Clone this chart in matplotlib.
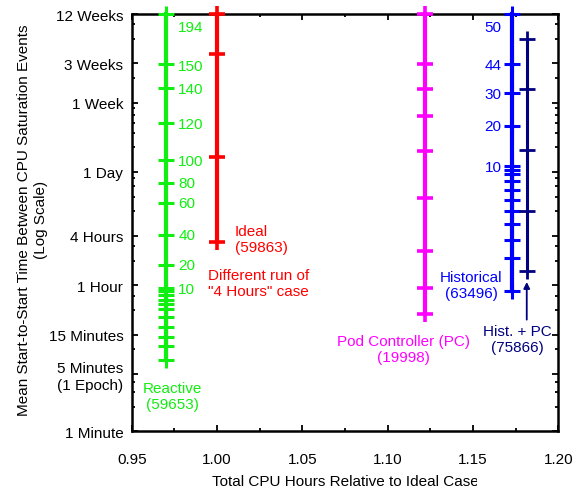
import matplotlib
matplotlib.use('Agg')
import matplotlib.pyplot as plt
from matplotlib.ticker import FixedLocator, NullFormatter
from matplotlib.transforms import Bbox, TransformedBbox

plt.rcParams['font.family'] = ['Liberation Sans', 'DejaVu Sans']
plt.rcParams['font.size'] = 11

# y values are minutes between saturation events (log axis)
reactive_x = 0.970
reactive_y = [120960, 29770, 15190, 5691, 2016, 1058, 604, 246, 106, 55.2, 50.7,
              45.7, 40.1, 35.5, 30.9, 24.5, 18.5, 14.2, 10.8, 7.4]
ideal_x = 1.000
ideal_y = [120960, 39400, 2194, 202]
pc_x = 1.122
pc_y = [120960, 29770, 14770, 6985, 2617, 694.5, 158.4, 55.2, 26.8]
hist_x = 1.173
hist_y = [120960, 29770, 13200, 5231, 1690, 1536, 1361, 1110, 869, 662, 482,
          335, 215.6, 128, 51.6]
histpc_x = 1.1815
histpc_y = [60010, 14770, 2669, 478, 90.4]

reactive_labels = ['194', '150', '140', '120', '100', '80', '60', '40', '20', '10']
reactive_label_y = [83330, 28140, 14770, 5580, 1960, 1058, 604, 246, 107, 54.1]
hist_labels = ['50', '44', '30', '20', '10']
hist_label_y = [83330, 28940, 12950, 5190, 1643]

ytick_vals = [120960, 30240, 10080, 1440, 240, 60, 15, 5, 1]
ytick_labels = ['12 Weeks', '3 Weeks', '1 Week', '1 Day', '4 Hours', '1 Hour',
                '15 Minutes', '5 Minutes\n(1 Epoch)', '1 Minute']
ytick_minor = [90720, 60480, 20160, 8640, 7200, 5760, 4320, 2880, 1200, 960, 720,
               480, 180, 120, 45, 30, 10, 4, 3, 2]
xticks = [0.95, 1.00, 1.05, 1.10, 1.15, 1.20]
xticks_minor = [0.975, 1.025, 1.075, 1.125, 1.175]

GREEN = '#11ee11'
RED = '#ff0000'
MAGENTA = '#ff00ff'
BLUE = '#0000ff'
NAVY = '#000080'

fig = plt.figure(figsize=(5.82, 4.89), dpi=100)
ax = fig.add_axes([0.2263, 0.1160, 0.7330, 0.8533])


def draw_series(x, ys, color, lw=3.0, mew=2.2):
    ax.plot([x] * len(ys), ys, color=color, lw=lw, marker='+', ms=12.2,
            mew=mew, clip_on=False, zorder=3)


draw_series(reactive_x, reactive_y, GREEN)
draw_series(ideal_x, ideal_y, RED, mew=2.6)
draw_series(pc_x, pc_y, MAGENTA, mew=2.6)
draw_series(hist_x, hist_y, BLUE)
draw_series(histpc_x, histpc_y, NAVY, lw=2.2, mew=2.0)

for lab, y in zip(reactive_labels, reactive_label_y):
    ax.annotate(lab, (reactive_x, y), xytext=(9, 0), textcoords='offset points',
                color=GREEN, va='center', ha='left')
for lab, y in zip(hist_labels, hist_label_y):
    ax.annotate(lab, (hist_x, y), xytext=(-7.6, 0), textcoords='offset points',
                color=BLUE, va='center', ha='right')

ax.text(1.0105, 218, 'Ideal\n(59863)', color=RED, ha='left', va='center')
ax.text(0.9947, 64, 'Different run of\n"4 Hours" case', color=RED, ha='left',
        va='center')
ax.text(0.9736, 2.69, 'Reactive\n(59653)', color=GREEN, ha='center', va='center',
        multialignment='center')
ax.text(1.1095, 10.06, 'Pod Controller (PC)\n(19998)', color=MAGENTA, ha='center',
        va='center', multialignment='center')
ax.text(1.1491, 60.5, 'Historical\n(63496)', color=BLUE, ha='center', va='center',
        multialignment='center')
ax.text(1.1758, 13.3, 'Hist. + PC\n(75866)', color=NAVY, ha='center', va='center',
        multialignment='center')
ax.annotate('', xy=(histpc_x, 65.8), xytext=(histpc_x, 22.9),
            arrowprops=dict(arrowstyle='-|>', color=NAVY, lw=1.3,
                            mutation_scale=9, shrinkA=0, shrinkB=0))

ax.set_yscale('log')
ax.set_ylim(1, 120960)
ax.set_xlim(0.95, 1.20)
ax.yaxis.set_major_locator(FixedLocator(ytick_vals))
ax.set_yticklabels(ytick_labels)
ax.yaxis.set_minor_locator(FixedLocator(ytick_minor))
ax.yaxis.set_minor_formatter(NullFormatter())
ax.set_xticks(xticks)
ax.set_xticklabels(['%.2f' % v for v in xticks])
ax.set_xticks(xticks_minor, minor=True)

ax.tick_params(which='both', direction='in', top=True, right=True, width=1.3)
ax.tick_params(which='major', length=4.5)
ax.tick_params(which='minor', length=2.5)
ax.tick_params(axis='x', which='major', pad=15)
ax.tick_params(axis='y', which='major', pad=6)
for sp in ax.spines.values():
    sp.set_linewidth(1.8)

fig.text(32.5 / 582, 1 - 220 / 489,
         'Mean Start-to-Start Time Between CPU Saturation Events\n(Log Scale)',
         rotation=90, ha='center', va='center', multialignment='center')
xl = fig.text(345 / 582, 1 - 482 / 489, 'Total CPU Hours Relative to Ideal Case',
              ha='center', va='center')
xl.set_clip_box(TransformedBbox(Bbox.from_extents(0, 0, 477 / 582, 1),
                                fig.transFigure))
xl.set_clip_on(True)

fig.savefig('out.png', dpi=100)
